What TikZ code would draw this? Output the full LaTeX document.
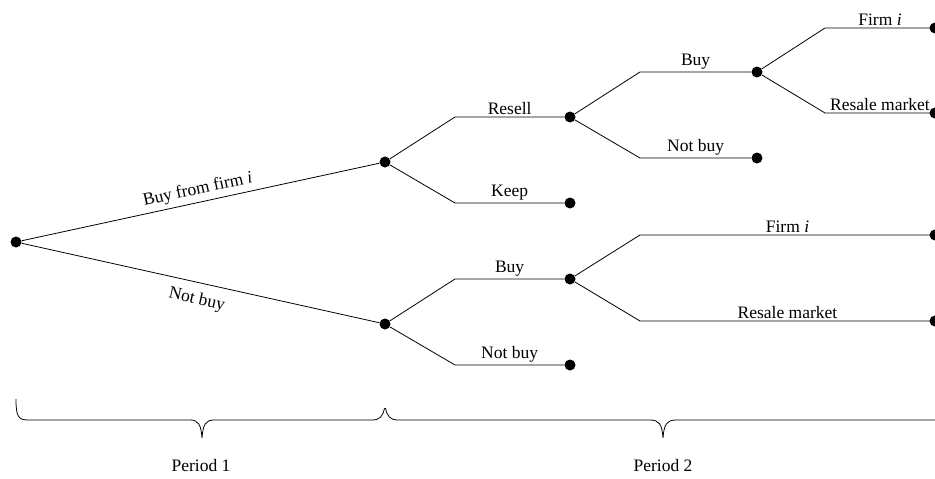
\documentclass[tikz,border=0pt]{standalone}
\usepackage{fontspec}
\setmainfont{Liberation Serif}
\begin{document}
\begin{tikzpicture}[x=1pt,y=-1pt,
  dot/.style={circle,fill=black,inner sep=0pt,minimum size=11pt},
  br/.style={line width=0.8pt},
  lab/.style={above,inner sep=2pt},
  every node/.append style={font=\fontsize{17.5}{20}\selectfont}]
\useasboundingbox (0,0) rectangle (935,479);
\begin{scope}
\clip (0,0) rectangle (935,479);
% nodes
\node[dot] (r) at (16,242) {};
\node[dot] (a) at (385,162) {};
\node[dot] (b) at (385,324) {};
\node[dot] (c) at (570,117) {};
\node[dot] (k) at (570,203) {};
\node[dot] (d) at (757,72) {};
\node[dot] (n1) at (757,158) {};
\node[dot] (f1) at (935,28) {};
\node[dot] (m1) at (935,113) {};
\node[dot] (e) at (570,279) {};
\node[dot] (n2) at (570,365) {};
\node[dot] (f2) at (935,235) {};
\node[dot] (m2) at (935,321) {};
% bends
\coordinate (ac) at (455,117);
\coordinate (ak) at (455,203);
\coordinate (cd) at (640,72);
\coordinate (cn) at (640,158);
\coordinate (df) at (825,28);
\coordinate (dm) at (825,113);
\coordinate (be) at (455,279);
\coordinate (bn) at (455,365);
\coordinate (ef) at (640,235);
\coordinate (em) at (640,321);
% edges
\draw[br] (r) -- node[sloped,above,inner sep=4pt] {Buy from firm \textit{i}} (a);
\draw[br] (r) -- node[sloped,below,inner sep=9pt] {Not buy} (b);
\draw[br] (a) -- (ac) -- node[lab] {Resell} (c);
\draw[br] (a) -- (ak) -- node[lab] {Keep} (k);
\draw[br] (c) -- (cd) -- node[lab] {Buy} (d);
\draw[br] (c) -- (cn) -- node[lab] {Not buy} (n1);
\draw[br] (d) -- (df) -- node[lab] {Firm \textit{i}} (f1.center);
\draw[br] (d) -- (dm) -- node[lab] {Resale market} (m1.center);
\draw[br] (b) -- (be) -- node[lab] {Buy} (e);
\draw[br] (b) -- (bn) -- node[lab] {Not buy} (n2);
\draw[br] (e) -- (ef) -- node[lab] {Firm \textit{i}} (f2.center);
\draw[br] (e) -- (em) -- node[lab] {Resale market} (m2.center);
% braces
\draw[br] (16,399) .. controls (16,416) and (18,420) .. (28,420) -- (190,420)
  .. controls (198,420) and (201,424) .. (202,438)
  .. controls (203,424) and (206,420) .. (214,420) -- (372,420)
  .. controls (380,420) and (383,416) .. (384.5,408);
\draw[br] (385.5,408) .. controls (387,416) and (390,420) .. (398,420) -- (650,420)
  .. controls (659,420) and (662,424) .. (663,438)
  .. controls (664,424) and (667,420) .. (676,420) -- (940,420);
\node (p1) at (201,466) {Period 1};
\node (p2) at (663,466) {Period 2};
\end{scope}
\end{tikzpicture}
\end{document}
